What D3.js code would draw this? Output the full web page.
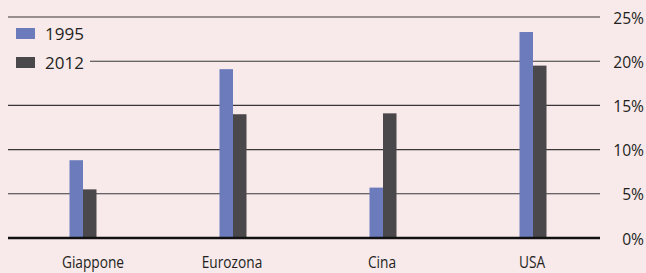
<!DOCTYPE html>
<html>
<head>
<meta charset="utf-8">
<script src="https://cdn.jsdelivr.net/npm/d3@7"></script>
<style>
  body { margin: 0; background: #f8e9eb; }
  svg { display: block; }
  text { font-family: "Open Sans", "Noto Sans", sans-serif; fill: #231f20; }
</style>
</head>
<body>
<svg width="646" height="273"></svg>
<script>
var categories = ['Giappone', 'Eurozona', 'Cina', 'USA'];
var series = ['1995', '2012'];
var values1995 = [8.8, 19.1, 5.7, 23.3];
var values2012 = [5.5, 14.0, 14.1, 19.5];
var ticks = [0, 5, 10, 15, 20, 25];
var colors = ['#6b7bbb', '#4a484a'];

var svg = d3.select('svg');

var y = d3.scaleLinear().domain([0, 25]).range([238, 17]);
var x = d3.scaleBand().domain(categories).range([8, 608]);
var xs = d3.scaleBand().domain(series).range([0, 27]);

var data = categories.map(function(c, i) {
	return { cat: c, vals: [values1995[i], values2012[i]] };
});

// gridlines
var grid = svg.append('g');
ticks.forEach(function(t) {
	grid.append('line')
		.attr('x1', t === 20 ? 90 : 8)
		.attr('x2', 600)
		.attr('y1', y(t))
		.attr('y2', y(t))
		.attr('stroke', '#3a3738')
		.attr('stroke-width', 1.1);
});

// bars
var groups = svg.selectAll('g.cat').data(data).enter().append('g')
	.attr('class', 'cat')
	.attr('transform', function(d) { return 'translate(' + (x(d.cat) + x.bandwidth() / 2 - 13.5) + ',0)'; });

groups.selectAll('rect').data(function(d) { return d.vals.map(function(v, i) { return { s: series[i], v: v, i: i }; }); })
	.enter().append('rect')
	.attr('x', function(d) { return xs(d.s); })
	.attr('width', xs.bandwidth())
	.attr('y', function(d) { return y(d.v); })
	.attr('height', function(d) { return y(0) - y(d.v); })
	.attr('fill', function(d) { return colors[d.i]; });

// baseline on top
svg.append('line')
	.attr('x1', 8).attr('x2', 600)
	.attr('y1', y(0)).attr('y2', y(0))
	.attr('stroke', '#111').attr('stroke-width', 2.4);

// y axis labels (narrow face, squeezed horizontally)
svg.append('g').selectAll('text').data(ticks).enter().append('text')
	.attr('transform', function(d) { return 'translate(644,' + (y(d) + 6.5) + ') scale(0.92,1)'; })
	.attr('text-anchor', 'end')
	.attr('font-size', 17)
	.text(function(d) { return d + '%'; });

// category labels
svg.append('g').selectAll('text').data(categories).enter().append('text')
	.attr('transform', function(d, i) {
		var cx = x(d) + x.bandwidth() / 2 + (i === 0 ? 10 : -1);
		return 'translate(' + cx + ',268) scale(0.83,1)';
	})
	.attr('text-anchor', 'middle')
	.attr('font-size', 16.5)
	.text(function(d) { return d; });

// legend
var legend = svg.append('g').selectAll('g').data(series).enter().append('g')
	.attr('transform', function(d, i) { return 'translate(16,' + (28 + i * 29) + ')'; });
legend.append('rect')
	.attr('width', 19).attr('height', 11)
	.attr('fill', function(d, i) { return colors[i]; });
legend.append('text')
	.attr('x', 29).attr('y', 12)
	.attr('font-size', 17)
	.text(function(d) { return d; });
</script>
</body>
</html>
